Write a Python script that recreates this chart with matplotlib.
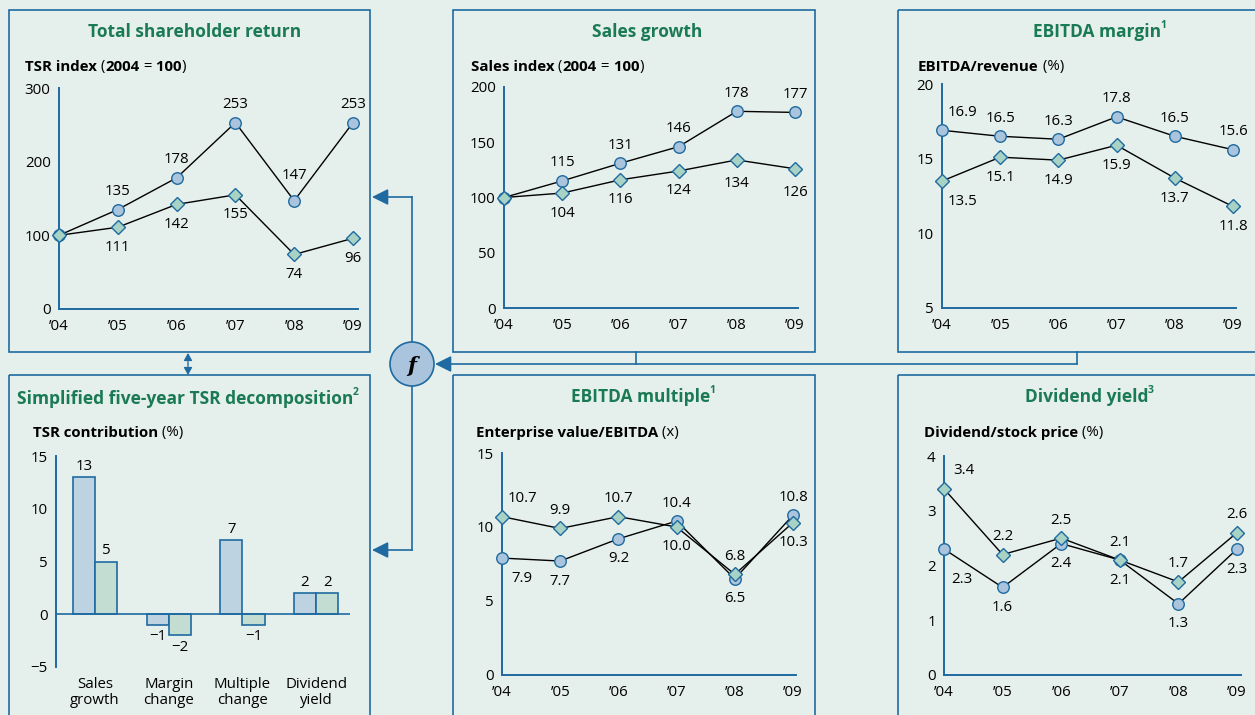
import matplotlib.pyplot as plt
from matplotlib.patches import Rectangle, Circle, FancyArrowPatch
from matplotlib.lines import Line2D
from matplotlib.text import Annotation
from matplotlib.transforms import Affine2D
import numpy as np

#%% DATA ------------------------------------------------------------------------
years = ["\u201904", "\u201905", "\u201906", "\u201907", "\u201908", "\u201909"]

tsr_circ = [100, 135, 178, 253, 147, 253]
tsr_diam = [100, 111, 142, 155, 74, 96]

sales_circ = [100, 115, 131, 146, 178, 177]
sales_diam = [100, 104, 116, 124, 134, 126]

margin_circ = [16.9, 16.5, 16.3, 17.8, 16.5, 15.6]
margin_diam = [13.5, 15.1, 14.9, 15.9, 13.7, 11.8]

multiple_circ = [7.9, 7.7, 9.2, 10.4, 6.5, 10.8]
multiple_diam = [10.7, 9.9, 10.7, 10.0, 6.8, 10.3]

dividend_circ = [2.3, 1.6, 2.4, 2.1, 1.3, 2.3]
dividend_diam = [3.4, 2.2, 2.5, 2.1, 1.7, 2.6]

decomp_cats = ["Sales\ngrowth", "Margin\nchange", "Multiple\nchange", "Dividend\nyield"]
decomp_circ = [13, -1, 7, 2]
decomp_diam = [5, -2, -1, 2]

#%% STYLE -----------------------------------------------------------------------
W, H = 1255, 715
BG = '#e5efeb'
BLUE = '#1f6aa0'
TITLE_GREEN = '#1a7a55'
C_FILL = '#a9c4dc'
D_FILL = '#a8d2c3'
BAR_B = '#bdd3e1'
BAR_G = '#c3ddd3'
FS = 10.8

plt.rcParams['font.family'] = ['Open Sans', 'DejaVu Sans']

# label placement codes -> offset in pixels (x right, y up)
offs = {'a': (0, 18), 'A': (0, 25), 'b': (0, -20), 'B': (0, -24),
        'ar': (20, 18), 'br': (20, -20), 'bR': (18, -30), None: None}

fig = plt.figure(figsize=(W / 100, H / 100), dpi=100, facecolor=BG)
# pixel coordinates, origin top-left
T = Affine2D().scale(0.01, -0.01).translate(0, H / 100) + fig.dpi_scale_trans


def box(x0, y0, x1, y1):
    fig.add_artist(Rectangle((x0, y0), x1 - x0, y1 - y0, transform=T, fill=False,
                             ec=BLUE, lw=1.2))


def title(x, y, s, sup=None, ha='center'):
    t = fig.text(x, y, s, transform=T, ha=ha, va='center', fontsize=12.5,
                 fontweight='bold', color=TITLE_GREEN)
    if sup:
        fig.add_artist(Annotation(sup, xy=(1, 0.86), xycoords=t, xytext=(-1, 0),
                                  textcoords='offset pixels', ha='left', va='center',
                                  fontsize=7.5, fontweight='bold', color=TITLE_GREEN))


def rich(x, y, parts, size=10.8):
    s, w = parts[0]
    prev = fig.text(x, y, s, transform=T, ha='left', va='center', fontsize=size,
                    fontweight=w, color='black')
    for s, w in parts[1:]:
        prev = fig.add_artist(Annotation(s, xy=(1, 0), xycoords=prev, ha='left', va='bottom',
                                         fontsize=size, fontweight=w, color='black'))


def make_axes(x0, x5, ylo, yhi, ylim, xmax=5.06):
    xr = x0 + (x5 - x0) / 5 * xmax
    ax = fig.add_axes([x0 / W, 1 - ylo / H, (xr - x0) / W, (ylo - yhi) / H])
    ax.set_facecolor('none')
    ax.set_xlim(0, xmax)
    ax.set_ylim(*ylim)
    for sp in ['top', 'right']:
        ax.spines[sp].set_visible(False)
    for sp in ['left', 'bottom']:
        ax.spines[sp].set_color(BLUE)
        ax.spines[sp].set_linewidth(1.4)
    ax.tick_params(length=0, labelsize=FS, pad=6)
    ax.tick_params(axis='x', pad=7)
    return ax


def line_panel(ax, circ, diam, pos_c, pos_d, yticks, fmt):
    x = np.arange(len(years))
    ax.plot(x, circ, color='black', lw=1.0, zorder=2, clip_on=False)
    ax.plot(x, diam, color='black', lw=1.0, zorder=2, clip_on=False)
    ax.plot(x, circ, 'o', ms=8.3, mfc=C_FILL, mec=BLUE, mew=1.0, zorder=3, clip_on=False)
    ax.plot(x, diam, 'D', ms=7.6, mfc=D_FILL, mec=BLUE, mew=1.0, zorder=4, clip_on=False)
    for vals, pos in [(circ, pos_c), (diam, pos_d)]:
        for xi, v, p in zip(x, vals, pos):
            if p is None:
                continue
            ax.annotate(fmt.format(v), (xi, v), xytext=offs[p], textcoords='offset pixels',
                        ha='center', va='center', fontsize=FS, zorder=5,
                        annotation_clip=False)
    ax.set_xticks(x)
    ax.set_xticklabels(years)
    ax.set_yticks(yticks)


# %% PANELS --------------------------------------------------------------------
box(9, 10, 370, 352)
box(453, 10, 815, 352)
box(898, 10, 1262, 352)
box(9, 375, 370, 722)
box(453, 375, 815, 722)
box(898, 375, 1262, 722)

title(195, 32, "Total shareholder return")
title(647, 32, "Sales growth")
title(1097, 32, "EBITDA margin", sup="1")
title(17, 399, "Simplified five-year TSR decomposition", sup="2", ha='left')
title(641, 397, "EBITDA multiple", sup="1")
title(1087, 397, "Dividend yield", sup="3")

rich(25, 67, [("TSR index", 'bold'), (" (", 'normal'), ("2004", 'bold'), (" =", 'normal'),
              (" 100", 'bold'), (")", 'normal')])
rich(471, 67, [("Sales index", 'bold'), (" (", 'normal'), ("2004", 'bold'), (" =", 'normal'),
               (" 100", 'bold'), (")", 'normal')])
rich(918, 67, [("EBITDA/revenue", 'bold'), (" (%)", 'normal')])
rich(33, 433, [("TSR contribution", 'bold'), (" (%)", 'normal')])
rich(476, 433, [("Enterprise value/EBITDA", 'bold'), (" (x)", 'normal')])
rich(924, 433, [("Dividend/stock price", 'bold'), (" (%)", 'normal')])

ax = make_axes(59, 353, 309, 88, (0, 300), xmax=5.08)
line_panel(ax, tsr_circ, tsr_diam, [None, 'a', 'a', 'a', 'A', 'a'],
           [None, 'b', 'b', 'b', 'b', 'b'], [0, 100, 200, 300], "{:d}")

ax = make_axes(504, 795, 308, 87, (0, 200))
line_panel(ax, sales_circ, sales_diam, [None, 'a', 'a', 'a', 'a', 'a'],
           [None, 'b', 'b', 'b', 'B', 'B'], [0, 50, 100, 150, 200], "{:d}")

ax = make_axes(942, 1233, 308, 84, (5, 20))
line_panel(ax, margin_circ, margin_diam, ['ar', 'a', 'a', 'a', 'a', 'a'],
           ['br', 'b', 'b', 'b', 'b', 'b'], [5, 10, 15, 20], "{:.1f}")

ax = make_axes(502, 793, 675, 453, (0, 15))
line_panel(ax, multiple_circ, multiple_diam, ['br', 'b', 'b', 'a', 'b', 'a'],
           ['ar', 'a', 'a', 'b', 'a', 'b'], [0, 5, 10, 15], "{:.1f}")

ax = make_axes(944, 1237, 675, 456, (0, 4))
line_panel(ax, dividend_circ, dividend_diam, ['bR', 'b', 'b', 'b', 'b', 'b'],
           ['ar', 'a', 'a', 'a', 'a', 'a'], [0, 1, 2, 3, 4], "{:.1f}")

# bar chart: TSR decomposition
xl, xr = -0.53, 3.46
ax = fig.add_axes([56 / W, 1 - 667 / H, (350 - 56) / W, (667 - 456) / H])
ax.set_facecolor('none')
ax.set_xlim(xl, xr)
ax.set_ylim(-5, 15)
for sp in ['top', 'right', 'bottom']:
    ax.spines[sp].set_visible(False)
ax.spines['left'].set_color(BLUE)
ax.spines['left'].set_linewidth(1.4)
xb = np.arange(len(decomp_cats))
ax.bar(xb - 0.15, decomp_circ, 0.3, color=BAR_B, edgecolor=BLUE, lw=1.2, zorder=2)
ax.bar(xb + 0.15, decomp_diam, 0.3, color=BAR_G, edgecolor=BLUE, lw=1.2, zorder=2)
ax.axhline(0, color=BLUE, lw=1.2, zorder=3)
for xs, vals in [(xb - 0.15, decomp_circ), (xb + 0.15, decomp_diam)]:
    for xi, v in zip(xs, vals):
        ax.annotate(f"{v}".replace('-', '\u2212'), (xi, v), xytext=(0, 11 if v > 0 else -12),
                    textcoords='offset pixels', ha='center', va='center', fontsize=FS)
ax.set_yticks([-5, 0, 5, 10, 15])
ax.set_yticklabels([f"{v}".replace('-', '\u2212') for v in [-5, 0, 5, 10, 15]])
ax.set_xticks(xb)
ax.set_xticklabels(decomp_cats, linespacing=1.1)
ax.tick_params(length=0, labelsize=FS, pad=6)
ax.tick_params(axis='x', pad=7)

# %% CONNECTORS ----------------------------------------------------------------
def seg(x0, y0, x1, y1):
    fig.add_artist(Line2D([x0, x1], [y0, y1], transform=T, color=BLUE, lw=1.2))


def arrow(x0, y0, x1, y1, hl=0.7, hw=0.35, lw=1.2):
    fig.add_artist(FancyArrowPatch((x0, y0), (x1, y1), transform=T,
                                   arrowstyle=f'-|>,head_length={hl},head_width={hw}',
                                   mutation_scale=14, color=BLUE, lw=lw,
                                   shrinkA=0, shrinkB=0))


seg(636, 352, 636, 364)
seg(1077, 352, 1077, 364)
arrow(1077, 364, 435, 364)
seg(412, 197, 412, 550)
arrow(412, 197, 372, 197)
arrow(412, 550, 372, 550)
# double arrow between the TSR panels
arrow(188, 364, 188, 353, hl=0.32, hw=0.18, lw=0.9)
arrow(188, 364, 188, 375, hl=0.32, hw=0.18, lw=0.9)

cx, cy = 412 / 100, (H - 364) / 100
fig.add_artist(Circle((cx, cy), 0.22, transform=fig.dpi_scale_trans, fc=C_FILL,
                      ec=BLUE, lw=1.2, zorder=5))
fig.text(412, 366, "f", transform=T, ha='center', va='center', fontsize=15,
         fontweight='bold', fontstyle='italic', family='DejaVu Serif', zorder=6)

fig.savefig("out.png", dpi=100, facecolor=BG)
